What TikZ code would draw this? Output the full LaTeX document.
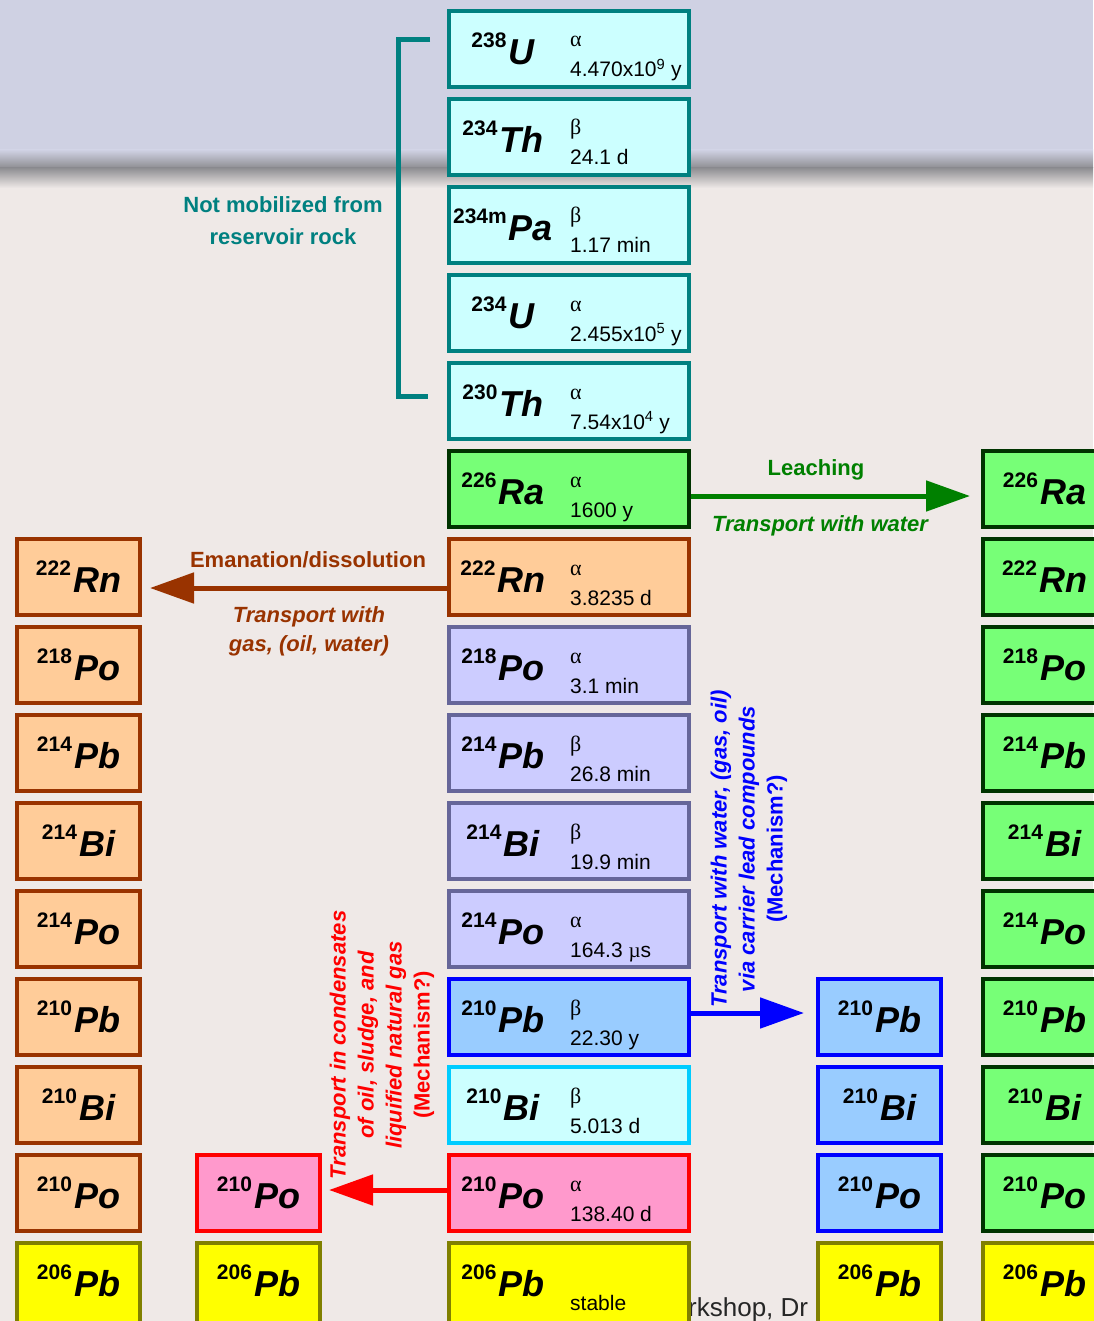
\documentclass[tikz,border=0pt]{standalone}
\usepackage{fontspec}
\setmainfont{Liberation Sans}
\newfontfamily\greek{Liberation Serif}
\usetikzlibrary{arrows.meta,positioning}

\definecolor{bgtop}{HTML}{CFD1E3}
\definecolor{bgband}{HTML}{8E8E92}
\definecolor{bglow}{HTML}{EFE9E7}
\definecolor{cyanfill}{HTML}{CCFFFF}
\definecolor{tealline}{HTML}{008080}
\definecolor{greenfill}{HTML}{77FF77}
\definecolor{darkgreen}{HTML}{003300}
\definecolor{peach}{HTML}{FFCC99}
\definecolor{rust}{HTML}{993300}
\definecolor{lavender}{HTML}{CCCCFF}
\definecolor{slate}{HTML}{666699}
\definecolor{skyfill}{HTML}{99CCFF}
\definecolor{deepblue}{HTML}{0000FF}
\definecolor{cyanline}{HTML}{00CCFF}
\definecolor{pinkfill}{HTML}{FF99CC}
\definecolor{brightred}{HTML}{FF0000}
\definecolor{yellowfill}{HTML}{FFFF00}
\definecolor{oliveline}{HTML}{808000}
\definecolor{leafgreen}{HTML}{008000}

\newcommand{\nuclide}[2]{\raisebox{17pt}{\fontsize{21}{21}\selectfont\bfseries #1}\kern2pt{\fontsize{36}{36}\selectfont\bfseries\itshape #2}}
\newcommand{\chainlabel}[5]{%
  \node[isolabel] (#1-l) at ([xshift=-66pt]#1.center) {\nuclide{#2}{#3}};
  \node[mode] (#1-m) at ([xshift=1pt,yshift=2pt]#1.center) {#4};
  \node[halflife] (#1-t) at ([xshift=1pt,yshift=-28pt]#1.center) {#5};}

\tikzset{
  nuc/.style={draw, line width=4pt, minimum width=240pt, minimum height=76pt, inner sep=0pt, text=black},
  thin/.style={nuc, minimum width=123pt},
  last/.style={minimum height=88pt, text depth=12pt},
  chainU/.style={fill=cyanfill, draw=tealline},
  radium/.style={fill=greenfill, draw=darkgreen},
  radon/.style={fill=peach, draw=rust},
  shortlived/.style={fill=lavender, draw=slate},
  lead/.style={fill=skyfill, draw=deepblue},
  bismuth/.style={fill=cyanfill, draw=cyanline},
  polonium/.style={fill=pinkfill, draw=brightred},
  endlead/.style={fill=yellowfill, draw=oliveline},
  isolabel/.style={inner sep=0pt},
  mode/.style={font=\fontsize{22}{22}\selectfont\greek, anchor=base west, inner sep=0pt},
  halflife/.style={font=\fontsize{21}{21}\selectfont, anchor=base west, inner sep=0pt},
  move/.style={line width=5pt, -{Triangle[length=44pt,width=30pt]}},
  note/.style={font=\fontsize{22}{29}\selectfont\bfseries, align=center, inner sep=0pt},
  side/.style={font=\fontsize{22}{28}\selectfont\bfseries\itshape, align=center, rotate=90, inner sep=0pt}
}

\begin{document}
\begin{tikzpicture}[x=1pt,y=-1pt]
\useasboundingbox (0,0) rectangle (1093,1321);
% background of the slide
\fill[bgtop] (0,0) rectangle (1093,150);
\shade[top color=bgtop, bottom color=bgband] (0,150) rectangle (1093,168);
\shade[top color=bgband, bottom color=bglow] (0,168) rectangle (1093,188);
\fill[bglow] (0,188) rectangle (1093,1321);
\node[anchor=base west, inner sep=0pt, font=\fontsize{26}{26}\selectfont, text=black!85] (foot) at (688,1316) {rkshop, Dr};

% main decay chain
\node[nuc, chainU] (u238) at (569,49) {};
\chainlabel{u238}{238}{U}{α}{4.470x10\textsuperscript{9} y}
\node[nuc, chainU] (th234) at (569,137) {};
\chainlabel{th234}{234}{Th}{β}{24.1 d}
\node[nuc, chainU] (pa234) at (569,225) {};
\chainlabel{pa234}{234m}{Pa}{β}{1.17 min}
\node[nuc, chainU] (u234) at (569,313) {};
\chainlabel{u234}{234}{U}{α}{2.455x10\textsuperscript{5} y}
\node[nuc, chainU] (th230) at (569,401) {};
\chainlabel{th230}{230}{Th}{α}{7.54x10\textsuperscript{4} y}
\node[nuc, radium] (ra226) at (569,489) {};
\chainlabel{ra226}{226}{Ra}{α}{1600 y}
\node[nuc, radon] (rn222) at (569,577) {};
\chainlabel{rn222}{222}{Rn}{α}{3.8235 d}
\node[nuc, shortlived] (po218) at (569,665) {};
\chainlabel{po218}{218}{Po}{α}{3.1 min}
\node[nuc, shortlived] (pb214) at (569,753) {};
\chainlabel{pb214}{214}{Pb}{β}{26.8 min}
\node[nuc, shortlived] (bi214) at (569,841) {};
\chainlabel{bi214}{214}{Bi}{β}{19.9 min}
\node[nuc, shortlived] (po214) at (569,929) {};
\chainlabel{po214}{214}{Po}{α}{164.3 {\greek µ}s}
\node[nuc, lead] (pb210) at (569,1017) {};
\chainlabel{pb210}{210}{Pb}{β}{22.30 y}
\node[nuc, bismuth] (bi210) at (569,1105) {};
\chainlabel{bi210}{210}{Bi}{β}{5.013 d}
\node[nuc, polonium] (po210) at (569,1193) {};
\chainlabel{po210}{210}{Po}{α}{138.40 d}
\node[nuc, last, endlead] (pb206) at (569,1287) {};
\node[isolabel] (pb206-l) at ([xshift=-66pt,yshift=6pt]pb206.center) {\nuclide{206}{Pb}};
\node[halflife] (pb206-t) at ([xshift=1pt,yshift=-23pt]pb206.center) {stable};

% bracket
\draw[tealline, line width=5pt] (430,40) -- (398,40) -- (398,396) -- (428,396);
\node[note, text=tealline, font=\fontsize{22}{32}\selectfont\bfseries] (notmob) at (283,221) {Not mobilized from\\reservoir rock};

% radon column
\node[thin, radon] (l-rn222) at (78.5,577) {\nuclide{222}{Rn}};
\node[thin, radon] (l-po218) at (78.5,665) {\nuclide{218}{Po}};
\node[thin, radon] (l-pb214) at (78.5,753) {\nuclide{214}{Pb}};
\node[thin, radon] (l-bi214) at (78.5,841) {\nuclide{214}{Bi}};
\node[thin, radon] (l-po214) at (78.5,929) {\nuclide{214}{Po}};
\node[thin, radon] (l-pb210) at (78.5,1017) {\nuclide{210}{Pb}};
\node[thin, radon] (l-bi210) at (78.5,1105) {\nuclide{210}{Bi}};
\node[thin, radon] (l-po210) at (78.5,1193) {\nuclide{210}{Po}};
\node[thin, last, endlead] (l-pb206) at (78.5,1287) {\nuclide{206}{Pb}};

% polonium column
\node[thin, polonium] (m-po210) at (258.5,1193) {\nuclide{210}{Po}};
\node[thin, last, endlead] (m-pb206) at (258.5,1287) {\nuclide{206}{Pb}};

% lead column
\node[thin, lead] (b-pb210) at (879.5,1017) {\nuclide{210}{Pb}};
\node[thin, lead] (b-bi210) at (879.5,1105) {\nuclide{210}{Bi}};
\node[thin, lead] (b-po210) at (879.5,1193) {\nuclide{210}{Po}};
\node[thin, last, endlead] (b-pb206) at (879.5,1287) {\nuclide{206}{Pb}};

% radium column
\node[thin, radium] (g-ra226) at (1044.5,489) {\nuclide{226}{Ra}};
\node[thin, radium] (g-rn222) at (1044.5,577) {\nuclide{222}{Rn}};
\node[thin, radium] (g-po218) at (1044.5,665) {\nuclide{218}{Po}};
\node[thin, radium] (g-pb214) at (1044.5,753) {\nuclide{214}{Pb}};
\node[thin, radium] (g-bi214) at (1044.5,841) {\nuclide{214}{Bi}};
\node[thin, radium] (g-po214) at (1044.5,929) {\nuclide{214}{Po}};
\node[thin, radium] (g-pb210) at (1044.5,1017) {\nuclide{210}{Pb}};
\node[thin, radium] (g-bi210) at (1044.5,1105) {\nuclide{210}{Bi}};
\node[thin, radium] (g-po210) at (1044.5,1193) {\nuclide{210}{Po}};
\node[thin, last, endlead] (g-pb206) at (1044.5,1287) {\nuclide{206}{Pb}};

% transport paths
\draw[move, leafgreen, shorten >=11pt] ([yshift=-7pt]ra226.east) -- ([yshift=-7pt]g-ra226.west);
\node[note, text=leafgreen] (leach) at (816,470) {Leaching};
\node[note, text=leafgreen, font=\fontsize{22}{29}\selectfont\bfseries\itshape] (water) at (820,526) {Transport with water};

\draw[move, rust, shorten >=8pt] ([yshift=-11pt]rn222.west) -- ([yshift=-11pt]l-rn222.east);
\node[note, text=rust] (eman) at (308,560) {Emanation/dissolution};
\node[note, text=rust, font=\fontsize{22}{29}\selectfont\bfseries\itshape] (gas) at (309,631) {Transport with\\gas, (oil, water)};

\draw[move, deepblue, shorten >=12pt] ([yshift=4pt]pb210.east) -- ([yshift=4pt]b-pb210.west);
\node[side, text=deepblue] (carrier) at (749,849) {Transport with water, (gas, oil)\\via carrier lead compounds\\\upshape(Mechanism?)};

\draw[move, brightred, shorten >=7pt] ([yshift=3pt]po210.west) -- ([yshift=3pt]m-po210.east);
\node[side, text=brightred] (cond) at (382,1045) {Transport in condensates\\of oil, sludge, and\\liquified natural gas\\\upshape(Mechanism?)};
\end{tikzpicture}
\end{document}
